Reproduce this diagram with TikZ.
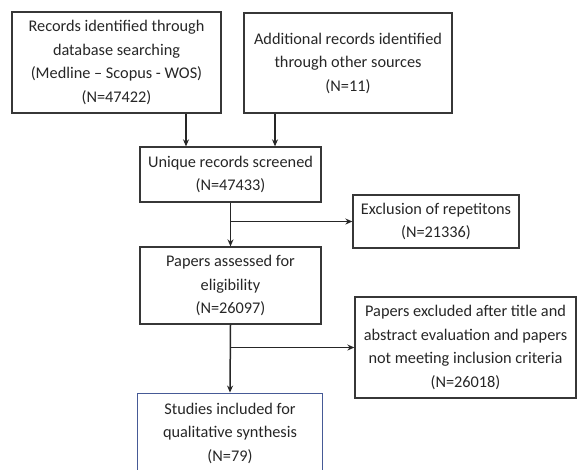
\documentclass[tikz,border=0pt]{standalone}
\usepackage{fontspec}
\setmainfont{Carlito}
\usetikzlibrary{arrows.meta}
\definecolor{boxgray}{RGB}{55,55,55}
\definecolor{boxblue}{RGB}{70,90,150}
\tikzset{
  box/.style={draw=boxgray, line width=1.3pt, align=center, inner sep=2pt, text=black!85},
  flow/.style={-{Stealth[length=7pt,width=6pt]}, line width=1.5pt, draw=black!85}
}
\begin{document}
\begin{tikzpicture}[x=1pt, y=-1pt, font=\fontsize{16.3}{23.5}\selectfont]
			\clip (0,0) rectangle (577,469);
			\node[box, minimum width=209pt, minimum height=101pt] (recdb) at (116.5,62.5) {Records identified through\\database searching\\(Medline -- Scopus - WOS)\\(N=47422)};
			\node[box, minimum width=208pt, minimum height=100pt] (recother) at (348,63) {Additional records identified\\through other sources\\(N=11)};
			\node[box, minimum width=181pt, minimum height=55pt] (screened) at (230.5,174.5) {Unique records screened\\(N=47433)};
			\node[box, minimum width=166pt, minimum height=53pt] (repet) at (436,221.5) {Exclusion of repetitons\\(N=21336)};
			\node[box, minimum width=181pt, minimum height=77pt] (assessed) at (230.5,285.5) {Papers assessed for\\eligibility\\(N=26097)};
			\node[box, minimum width=221pt, minimum height=101pt] (excluded) at (465.5,347.5) {Papers excluded after title and\\abstract evaluation and papers\\not meeting inclusion criteria\\(N=26018)};
			\node[box, draw=boxblue, line width=0.9pt, minimum width=185pt, minimum height=80pt] (included) at (230,433) {Studies included for\\qualitative synthesis\\(N=79)};
			\draw[flow] ([xshift=69.5pt]recdb.south) -- ([xshift=69.5pt]recdb.south |- screened.north);
			\draw[flow] ([xshift=-73pt]recother.south) -- ([xshift=-73pt]recother.south |- screened.north);
			\draw[flow] (screened.south) -- (assessed.north);
			\draw[flow] (screened.south |- repet.west) -- (repet.west);
			\draw[flow] (assessed.south) -- (included.north);
			\draw[flow] (assessed.south |- excluded.west) -- (excluded.west);
		\end{tikzpicture}
\end{document}
